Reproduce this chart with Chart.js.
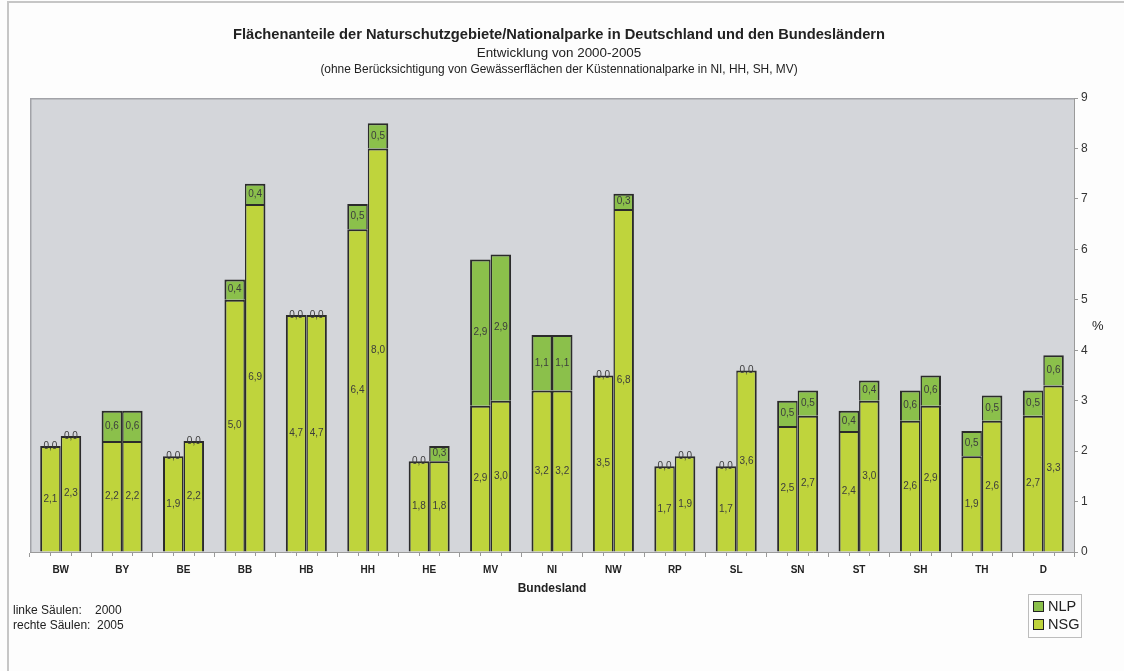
<!DOCTYPE html>
<html>
<head>
<meta charset="utf-8">
<script src="https://cdn.jsdelivr.net/npm/chart.js@4.4.1/dist/chart.umd.min.js"></script>
<style>
    html, body { margin: 0; padding: 0; background: #fdfdfd; }
    #wrap { position: relative; width: 1124px; height: 671px; overflow: hidden; font-family: "Liberation Sans", Arial, sans-serif; color: #222; }
    #frame { position: absolute; left: 7px; top: 1px; right: -4px; bottom: -4px; border-left: 2px solid #c6c6c6; border-top: 2px solid #c6c6c6; }
    canvas { position: absolute; left: 0; top: 0; }
    .t { position: absolute; left: 0; width: 1118px; text-align: center; white-space: nowrap; }
    #title { top: 26px; font-size: 14.7px; font-weight: bold; line-height: 16px; }
    #sub1 { top: 45px; font-size: 13.4px; line-height: 15px; }
    #sub2 { top: 63px; font-size: 11.9px; line-height: 13px; }
    #unit { position: absolute; left: 1092px; top: 318px; font-size: 13px; }
    #note { position: absolute; left: 13px; top: 603px; font-size: 12px; line-height: 15px; }
    #note span { display: inline-block; width: 82px; }
    #legend { position: absolute; left: 1028px; top: 594px; width: 52px; height: 42px; border: 1px solid #bdbdbd; font-size: 14.5px; }
    #legend div { position: absolute; left: 4px; height: 16px; line-height: 16px; }
    #legend i { display: inline-block; width: 9px; height: 9px; border: 1px solid #222; margin-right: 4px; vertical-align: -1px; }
</style>
</head>
<body>
<div id="wrap">
    <div id="frame"></div>
    <canvas id="chart" width="1124" height="671"></canvas>
    <div class="t" id="title">Flächenanteile der Naturschutzgebiete/Nationalparke in Deutschland und den Bundesländern</div>
    <div class="t" id="sub1">Entwicklung von 2000-2005</div>
    <div class="t" id="sub2">(ohne Berücksichtigung von Gewässerflächen der Küstennationalparke in NI, HH, SH, MV)</div>
    <div id="unit">%</div>
    <div id="note"><span>linke Säulen:</span>2000<br><span style="width:84px">rechte Säulen:</span>2005</div>
    <div id="legend">
        <div style="top:3px"><i style="background:#8bc04b"></i>NLP</div>
        <div style="top:21px"><i style="background:#bfd43c"></i>NSG</div>
    </div>
</div>
<script>
// Bundesländer + Deutschland
const categories = ['BW', 'BY', 'BE', 'BB', 'HB', 'HH', 'HE', 'MV', 'NI', 'NW', 'RP', 'SL', 'SN', 'ST', 'SH', 'TH', 'D'];

// Flächenanteile in % (linke Säule 2000, rechte Säule 2005)
const nsg2000 = [2.1, 2.2, 1.9, 5.0, 4.7, 6.4, 1.8, 2.9, 3.2, 3.5, 1.7, 1.7, 2.5, 2.4, 2.6, 1.9, 2.7];
const nlp2000 = [0.0, 0.6, 0.0, 0.4, 0.0, 0.5, 0.0, 2.9, 1.1, 0.0, 0.0, 0.0, 0.5, 0.4, 0.6, 0.5, 0.5];
const nsg2005 = [2.3, 2.2, 2.2, 6.9, 4.7, 8.0, 1.8, 3.0, 3.2, 6.8, 1.9, 3.6, 2.7, 3.0, 2.9, 2.6, 3.3];
const nlp2005 = [0.0, 0.6, 0.0, 0.4, 0.0, 0.5, 0.3, 2.9, 1.1, 0.3, 0.0, 0.0, 0.5, 0.4, 0.6, 0.5, 0.6];

const yMin = 0;
const yMax = 9;
const yStep = 1;

const NSG_COLOR = '#bfd43c';
const NLP_COLOR = '#8bc04b';
const EDGE = '#2b2b2b';
const AXIS = '#9a9a9a';
const FONT = '"Liberation Sans", Arial, sans-serif';

// grauer Hintergrund der Zeichenfläche
const plotBg = {
    id: 'plotBg',
    beforeDraw(chart) {
        const { ctx, chartArea: a } = chart;
        ctx.save();
        ctx.fillStyle = '#d4d6da';
        ctx.fillRect(a.left, a.top, a.right - a.left, a.bottom - a.top);
        ctx.strokeStyle = '#a2a3a8';
        ctx.lineWidth = 1.5;
        ctx.beginPath();
        ctx.moveTo(a.left + 0.75, a.bottom);
        ctx.lineTo(a.left + 0.75, a.top + 0.75);
        ctx.lineTo(a.right, a.top + 0.75);
        ctx.stroke();
        ctx.restore();
    }
};

// kleine Striche unter jeder Säule + Werte mittig in die Segmente
const segmentLabels = {
    id: 'segmentLabels',
    afterDatasetsDraw(chart) {
        const ctx = chart.ctx;
        const bottom = chart.chartArea.bottom;
        ctx.save();
        ctx.strokeStyle = AXIS;
        ctx.lineWidth = 1;
        [0, 2].forEach(i => {
            chart.getDatasetMeta(i).data.forEach(bar => {
                const x = Math.round(bar.x) + 0.5;
                ctx.beginPath();
                ctx.moveTo(x, bottom);
                ctx.lineTo(x, bottom + 4);
                ctx.stroke();
            });
        });
        ctx.font = '10px ' + FONT;
        ctx.fillStyle = '#3c3c3c';
        ctx.textAlign = 'center';
        ctx.textBaseline = 'middle';
        chart.data.datasets.forEach((ds, i) => {
            chart.getDatasetMeta(i).data.forEach((bar, j) => {
                const v = ds.data[j];
                const y = (bar.y + bar.base) / 2;
                ctx.fillText(v.toFixed(1).replace('.', ','), bar.x, y);
            });
        });
        ctx.restore();
    }
};

const leftBorder = { top: 2, left: 2, right: 1.5, bottom: 0 };
const rightBorder = { top: 2, left: 1.5, right: 2, bottom: 0 };

function barSet(label, data, color, stack, border) {
    return {
        label, data, stack,
        backgroundColor: color,
        borderColor: EDGE,
        borderWidth: border,
        borderSkipped: 'start',
        inflateAmount: 0,
        categoryPercentage: 0.668,
        barPercentage: 1.0,
    };
}

new Chart(document.getElementById('chart'), {
    type: 'bar',
    data: {
        labels: categories,
        datasets: [
            barSet('NSG 2000', nsg2000, NSG_COLOR, 'y2000', leftBorder),
            barSet('NLP 2000', nlp2000, NLP_COLOR, 'y2000', leftBorder),
            barSet('NSG 2005', nsg2005, NSG_COLOR, 'y2005', rightBorder),
            barSet('NLP 2005', nlp2005, NLP_COLOR, 'y2005', rightBorder),
        ]
    },
    options: {
        responsive: false,
        animation: false,
        layout: { padding: { left: 30, top: 98, right: 0, bottom: 71 } },
        plugins: {
            legend: { display: false },
            tooltip: { enabled: false },
        },
        scales: {
            x: {
                stacked: true,
                offset: true,
                grid: { offset: true, drawOnChartArea: false, tickLength: 5, color: AXIS },
                border: { color: AXIS },
                ticks: { color: '#222', font: { family: FONT, size: 10, weight: 'bold' }, padding: 7, maxRotation: 0 },
                title: { display: true, text: 'Bundesland', color: '#222', font: { family: FONT, size: 12, weight: 'bold' }, padding: { top: 0, bottom: 4 } },
                afterFit: s => { s.height = 48; },
            },
            y: {
                stacked: true,
                position: 'right',
                min: yMin,
                max: yMax,
                ticks: { stepSize: yStep, color: '#333', font: { family: FONT, size: 12 }, padding: 3 },
                grid: { drawOnChartArea: false, tickLength: 4, color: AXIS },
                border: { color: AXIS },
                afterFit: s => { s.width = 50; },
            }
        }
    },
    plugins: [plotBg, segmentLabels]
});
</script>
</body>
</html>
